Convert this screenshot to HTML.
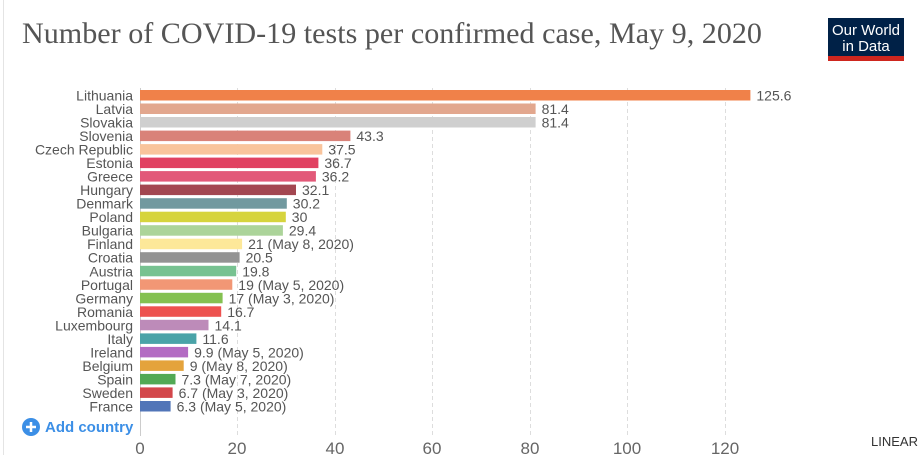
<!DOCTYPE html>
<html><head><meta charset="utf-8"><style>
html,body{margin:0;padding:0;background:#fff;}
body{width:922px;height:455px;overflow:hidden;position:relative;font-family:"Liberation Sans",sans-serif;}
</style></head><body>
<svg width="922" height="455" xmlns="http://www.w3.org/2000/svg" style="position:absolute;left:0;top:0">
<line x1="3.5" y1="0" x2="3.5" y2="455" stroke="#e4e4e4"/>
<text x="22" y="43" font-family="Liberation Serif,serif" font-size="30" fill="#555" textLength="740" lengthAdjust="spacingAndGlyphs">Number of COVID-19 tests per confirmed case, May 9, 2020</text>
<rect x="828" y="18" width="76" height="38" fill="#002147"/>
<rect x="828" y="56" width="76" height="5" fill="#ce261e"/>
<text x="866" y="35" font-size="15" fill="#fff" text-anchor="middle">Our World</text>
<text x="866" y="51" font-size="15" fill="#fff" text-anchor="middle">in Data</text>
<g stroke="#ddd" stroke-dasharray="4,3">
<line x1="237.5" y1="88" x2="237.5" y2="436"/><line x1="335.5" y1="88" x2="335.5" y2="436"/>
<line x1="432.5" y1="88" x2="432.5" y2="436"/><line x1="530.5" y1="88" x2="530.5" y2="436"/>
<line x1="627.5" y1="88" x2="627.5" y2="436"/><line x1="725.5" y1="88" x2="725.5" y2="436"/>
</g>
<line x1="140.5" y1="88" x2="140.5" y2="436" stroke="#ccc"/>
<g font-size="17" fill="#666" text-anchor="middle">
<text x="140" y="454">0</text><text x="237" y="454">20</text><text x="335" y="454">40</text><text x="432" y="454">60</text><text x="530" y="454">80</text><text x="627" y="454">100</text><text x="725" y="454">120</text>
</g>
<text x="918" y="446" font-size="13" fill="#333" text-anchor="end">LINEAR</text>
<g id="bars" font-size="14" fill="#555"></g>
<circle cx="31" cy="427" r="9" fill="#3c8fe6"/>
<path d="M31 422v10M26 427h10" stroke="#fff" stroke-width="2.5"/>
<text x="45" y="432" font-size="15" font-weight="bold" fill="#3c8fe6">Add country</text>
</svg>
<script>
var d=[["Lithuania",125.6,"125.6","#f08149"],["Latvia",81.4,"81.4","#e2a78e"],["Slovakia",81.4,"81.4","#cfcfcf"],["Slovenia",43.3,"43.3","#d98279"],["Czech Republic",37.5,"37.5","#f9c49c"],["Estonia",36.7,"36.7","#e14161"],["Greece",36.2,"36.2","#e25979"],["Hungary",32.1,"32.1","#a34751"],["Denmark",30.2,"30.2","#71999f"],["Poland",30,"30","#d6d43d"],["Bulgaria",29.4,"29.4","#acd49a"],["Finland",21,"21 (May 8, 2020)","#fde899"],["Croatia",20.5,"20.5","#939393"],["Austria",19.8,"19.8","#77c291"],["Portugal",19,"19 (May 5, 2020)","#f29775"],["Germany",17,"17 (May 3, 2020)","#84c151"],["Romania",16.7,"16.7","#ed524f"],["Luxembourg",14.1,"14.1","#bd8bb9"],["Italy",11.6,"11.6","#4aa3a8"],["Ireland",9.9,"9.9 (May 5, 2020)","#b36bc3"],["Belgium",9,"9 (May 8, 2020)","#e4a33c"],["Spain",7.3,"7.3 (May 7, 2020)","#52a955"],["Sweden",6.7,"6.7 (May 3, 2020)","#d3474b"],["France",6.3,"6.3 (May 5, 2020)","#5175b8"]];
var g=document.getElementById("bars"),s="";
d.forEach(function(r,i){var y=90+i*13.52,w=r[1]*4.86;
s+='<rect x="140" y="'+y.toFixed(1)+'" width="'+w.toFixed(1)+'" height="10.5" fill="'+r[3]+'"/>';
s+='<text x="133" y="'+(y+10.5).toFixed(1)+'" text-anchor="end">'+r[0]+'</text>';
s+='<text x="'+(140+w+6).toFixed(1)+'" y="'+(y+10.5).toFixed(1)+'">'+r[2]+'</text>';});
g.innerHTML=s;
</script>
</body></html>
